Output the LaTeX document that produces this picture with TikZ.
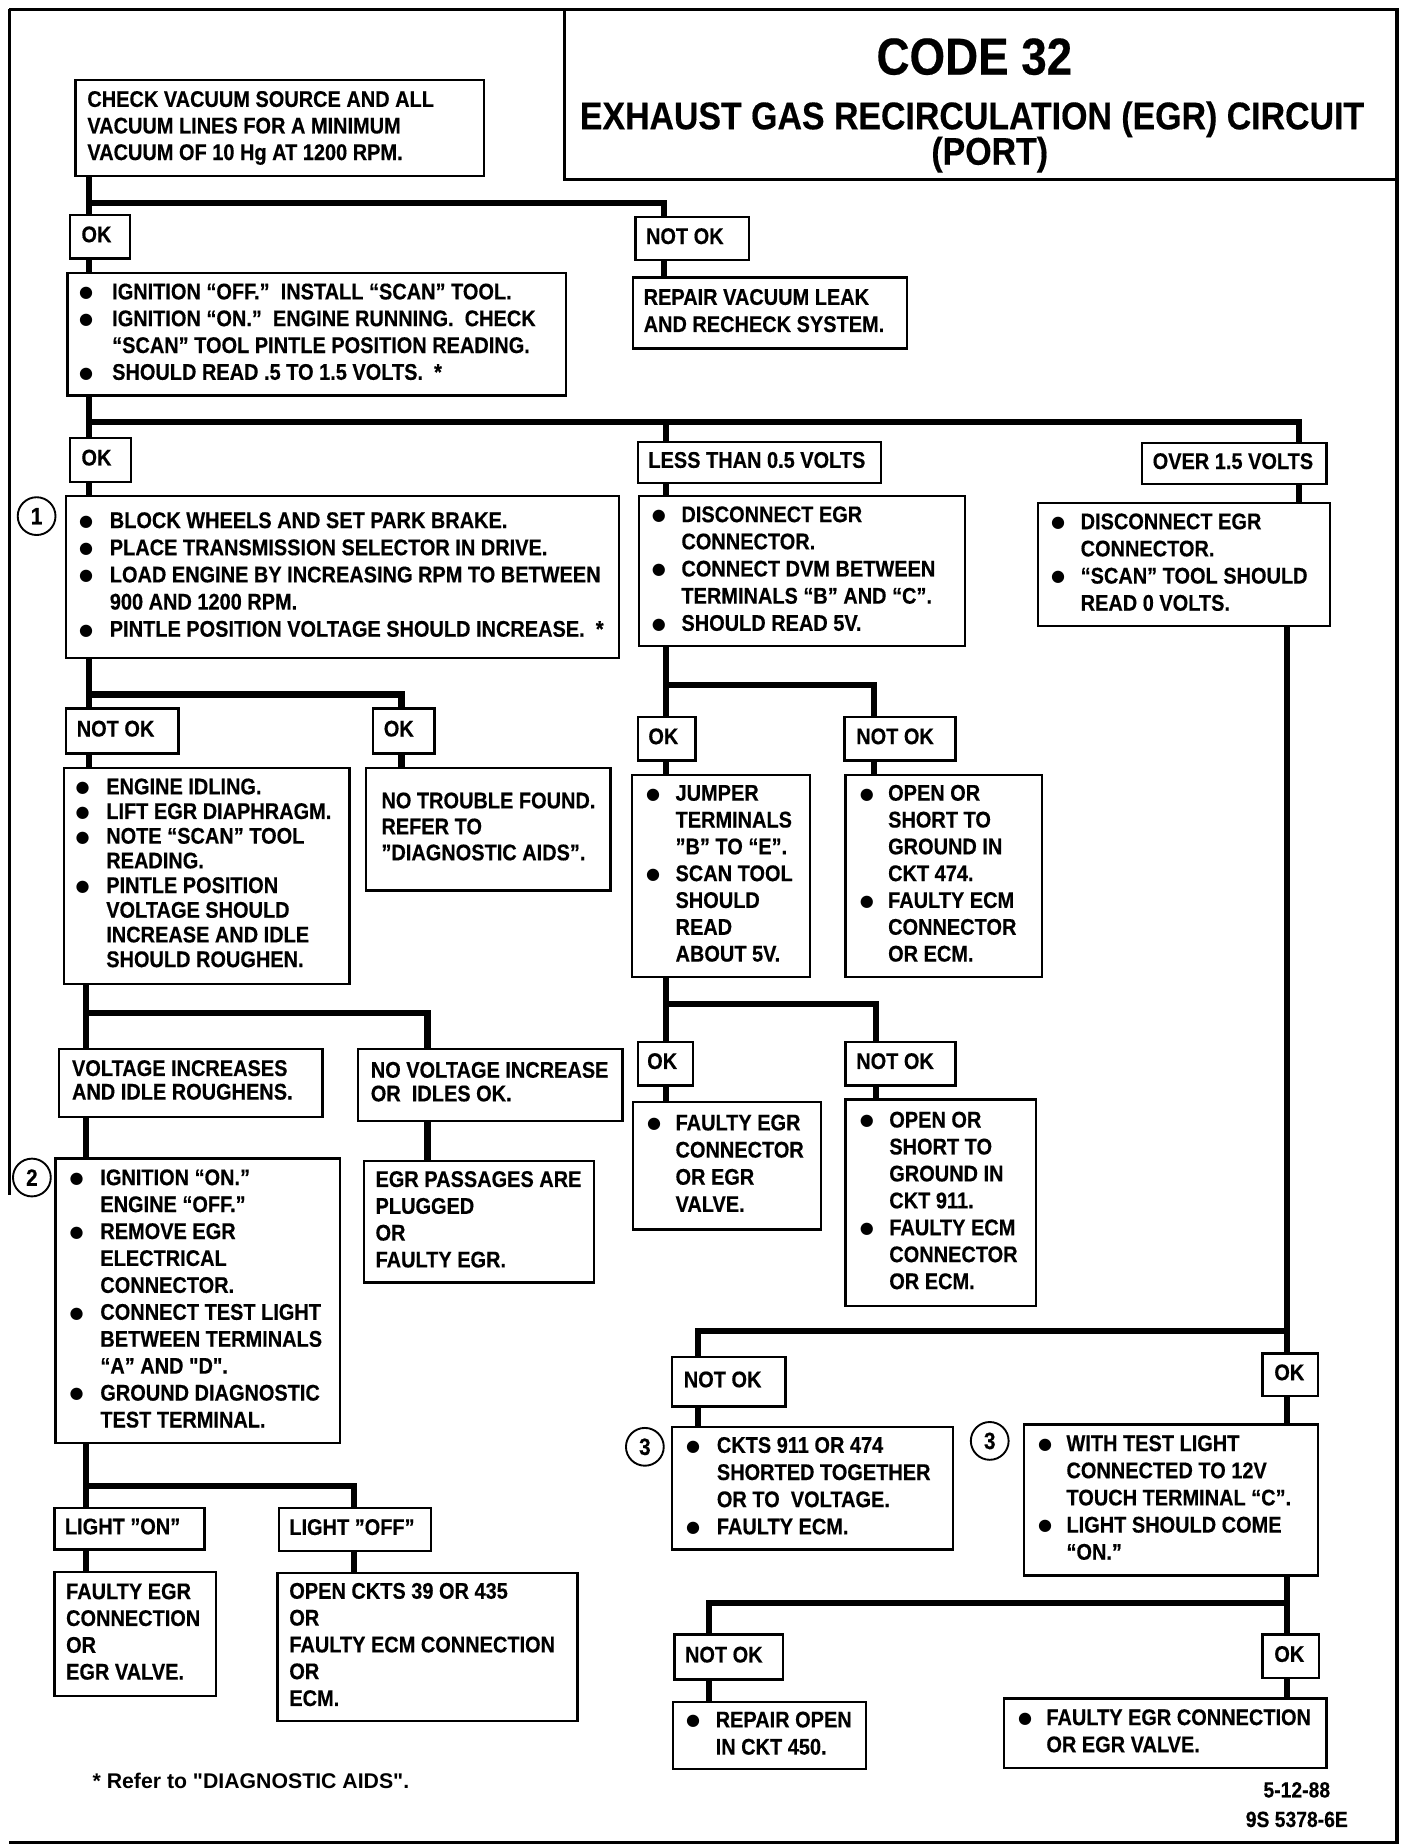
\documentclass[tikz,border=0pt]{standalone}
\usepackage{fontspec}
\newfontfamily\lab{Liberation Sans}[FakeStretch=0.88, BoldFeatures={FakeBold=0.4}]
\newfontfamily\plainf{Liberation Sans}
\newfontfamily\dejavu{DejaVu Sans}
\newcommand\mybul{\raisebox{0.7pt}{\dejavu\fontsize{6.8pt}{7pt}\selectfont ●}}
\newcommand\mybt[2]{\begin{tabular}{@{}p{#1}@{}l@{}}#2\end{tabular}}
\newcommand\mylt[1]{\begin{tabular}{@{}l@{}}#1\end{tabular}}
\newcommand\mybox[8]{%
  \pgfmathsetlengthmacro\bxw{(#4-2*#6)*0.5pt}%
  \pgfmathsetlengthmacro\bxp{#6*0.5pt}%
  \pgfmathsetlengthmacro\bxh{#5*0.5pt}%
  \pgfmathsetlengthmacro\bxs{#7*0.5pt}%
  \node[flbox, inner xsep=\bxp, minimum height=\bxh] (#1) at (#2,#3)
    {\makebox[\bxw][l]{\fontsize{9.6pt}{\bxs}\selectfont #8}};}
\tikzset{
  flbox/.style={draw, line width=1pt, anchor=north west, inner ysep=0pt,
    font=\lab\bfseries, fill=white},
  conn/.style={line width=2.6pt},
  frame/.style={line width=1.6pt},
  circ/.style={circle, draw, line width=0.8pt, minimum size=16pt, inner sep=0pt,
    font=\lab\bfseries\fontsize{10pt}{10pt}\selectfont},
}
\begin{document}
\begin{tikzpicture}[x=0.5pt,y=-0.5pt]
\useasboundingbox (0,0) rectangle (1192,1563);
% frame
\draw[frame] (8,8) -- (1183,8) -- (1183,1560) -- (8,1560);
\draw[line width=1pt] (8,8) -- (8,1012);
\draw[line width=0.9pt] (478,8) -- (478,152) -- (1183,152);
\node[font=\lab\bfseries\fontsize{22pt}{22pt}\selectfont] (t1) at (825,48) {CODE 32};
\node[font=\lab\bfseries\fontsize{16.3pt}{16pt}\selectfont] (t2) at (823,101) {EXHAUST GAS RECIRCULATION (EGR) CIRCUIT};
\node[font=\lab\bfseries\fontsize{16.3pt}{16pt}\selectfont] (t3) at (838,131) {(PORT)};

% junction coordinates
\coordinate (j1) at (75,172);  \coordinate (j1r) at (562,172);
\coordinate (j2) at (75,357);  \coordinate (j2m) at (564,357); \coordinate (j2r) at (1100,357);
\coordinate (j3) at (75,588);  \coordinate (j3r) at (340,588);
\coordinate (j4) at (564,580); \coordinate (j4r) at (740,580);
\coordinate (j5) at (73,858);  \coordinate (j5r) at (362,858);
\coordinate (j6) at (73,1258); \coordinate (j6r) at (300,1258);
\coordinate (j7) at (564,850); \coordinate (j7r) at (742,850);
\coordinate (j9) at (1090,1127); \coordinate (j9l) at (591,1127);
\coordinate (j10) at (1090,1357); \coordinate (j10l) at (600,1357);

% boxes
\mybox{A}{63}{67}{346}{81}{10}{22.5}{\mylt{CHECK VACUUM SOURCE AND ALL\\VACUUM LINES FOR A MINIMUM\\VACUUM OF 10 Hg AT 1200 RPM.}}
\mybox{ok1}{58}{181}{51}{37}{10}{23}{\mylt{OK}}
\mybox{nok1}{537}{183}{96}{36}{9}{23}{\mylt{NOT OK}}
\mybox{rep}{535}{234}{232}{60}{9}{23}{\mylt{REPAIR VACUUM LEAK\\AND RECHECK SYSTEM.}}
\mybox{B}{56}{230}{422}{104}{10}{22.7}{\mybt{14pt}{\mybul & IGNITION “OFF.”\ \ INSTALL “SCAN” TOOL.\\ \mybul & IGNITION “ON.”\ \ ENGINE RUNNING.\ \ CHECK\\ & “SCAN” TOOL PINTLE POSITION READING.\\ \mybul & SHOULD READ .5 TO 1.5 VOLTS.\ \ *}}
\mybox{ok2}{58}{370}{52}{37}{10}{23}{\mylt{OK}}
\mybox{less}{539}{373}{206}{35}{9}{23}{\mylt{LESS THAN 0.5 VOLTS}}
\mybox{over}{966}{374}{156}{35}{9}{23}{\mylt{OVER 1.5 VOLTS}}
\mybox{C}{55}{419}{468}{137}{11}{23}{\mybt{13pt}{\mybul & BLOCK WHEELS AND SET PARK BRAKE.\\ \mybul & PLACE TRANSMISSION SELECTOR IN DRIVE.\\ \mybul & LOAD ENGINE BY INCREASING RPM TO BETWEEN\\ & 900 AND 1200 RPM.\\ \mybul & PINTLE POSITION VOLTAGE SHOULD INCREASE.\ \ *}}
\mybox{D}{540}{419}{276}{127}{11}{23}{\mybt{12.5pt}{\mybul & DISCONNECT EGR\\ & CONNECTOR.\\ \mybul & CONNECT DVM BETWEEN\\ & TERMINALS “B” AND “C”.\\ \mybul & SHOULD READ 5V.}}
\mybox{E}{878}{425}{247}{104}{11}{23}{\mybt{12.5pt}{\mybul & DISCONNECT EGR\\ & CONNECTOR.\\ \mybul & “SCAN” TOOL SHOULD\\ & READ 0 VOLTS.}}
\mybox{nok2}{55}{599}{95}{38}{9}{23}{\mylt{NOT OK}}
\mybox{ok3}{315}{599}{52}{38}{9}{23}{\mylt{OK}}
\mybox{F}{53}{649}{242}{183}{10}{20.9}{\mybt{13pt}{\mybul & ENGINE IDLING.\\ \mybul & LIFT EGR DIAPHRAGM.\\ \mybul & NOTE “SCAN” TOOL\\ & READING.\\ \mybul & PINTLE POSITION\\ & VOLTAGE SHOULD\\ & INCREASE AND IDLE\\ & SHOULD ROUGHEN.}}
\mybox{G}{309}{649}{207}{104}{13}{22}{\mylt{NO TROUBLE FOUND.\\REFER TO\\”DIAGNOSTIC AIDS”.}}
\mybox{ok4}{539}{606}{49}{37}{9}{23}{\mylt{OK}}
\mybox{nok3}{714}{606}{94}{37}{10}{23}{\mylt{NOT OK}}
\mybox{H}{534}{655}{151}{171}{12}{22.7}{\mybt{12.5pt}{\mybul & JUMPER\\ & TERMINALS\\ & ”B” TO “E”.\\ \mybul & SCAN TOOL\\ & SHOULD\\ & READ\\ & ABOUT 5V.}}
\mybox{I}{715}{655}{166}{171}{12}{22.7}{\mybt{12pt}{\mybul & OPEN OR\\ & SHORT TO\\ & GROUND IN\\ & CKT 474.\\ \mybul & FAULTY ECM\\ & CONNECTOR\\ & OR ECM.}}
\mybox{ok5}{539}{881}{47}{37}{8}{23}{\mylt{OK}}
\mybox{nok4}{715}{881}{93}{37}{9}{23}{\mylt{NOT OK}}
\mybox{J}{535}{932}{159}{108}{12}{23}{\mybt{12pt}{\mybul & FAULTY EGR\\ & CONNECTOR\\ & OR EGR\\ & VALVE.}}
\mybox{K}{715}{930}{161}{175}{12}{22.8}{\mybt{12.5pt}{\mybul & OPEN OR\\ & SHORT TO\\ & GROUND IN\\ & CKT 911.\\ \mybul & FAULTY ECM\\ & CONNECTOR\\ & OR ECM.}}
\mybox{L}{49}{887}{223}{58}{11}{20}{\mylt{VOLTAGE INCREASES\\AND IDLE ROUGHENS.}}
\mybox{M}{302}{887}{224}{61}{11}{20}{\mylt{NO VOLTAGE INCREASE\\OR\ \ IDLES OK.}}
\mybox{N}{46}{980}{241}{241}{12}{22.8}{\mybt{13pt}{\mybul & IGNITION “ON.”\\ & ENGINE “OFF.”\\ \mybul & REMOVE EGR\\ & ELECTRICAL\\ & CONNECTOR.\\ \mybul & CONNECT TEST LIGHT\\ & BETWEEN TERMINALS\\ & “A” AND "D".\\ \mybul & GROUND DIAGNOSTIC\\ & TEST TERMINAL.}}
\mybox{O}{307}{982}{195}{103}{10}{22.7}{\mylt{EGR PASSAGES ARE\\PLUGGED\\OR\\FAULTY EGR.}}
\mybox{lon}{45}{1276}{127}{35}{9}{23}{\mylt{LIGHT ”ON”}}
\mybox{loff}{235}{1276}{129}{36}{9}{23}{\mylt{LIGHT ”OFF”}}
\mybox{P}{45}{1330}{137}{105}{10}{22.7}{\mylt{FAULTY EGR\\CONNECTION\\OR\\EGR VALVE.}}
\mybox{Q}{234}{1331}{254}{125}{10}{22.7}{\mylt{OPEN CKTS 39 OR 435\\OR\\FAULTY ECM CONNECTION\\OR\\ECM.}}
\mybox{nok5}{568}{1148}{96}{42}{10}{23}{\mylt{NOT OK}}
\mybox{R}{568}{1207}{238}{104}{12}{23}{\mybt{13pt}{\mybul & CKTS 911 OR 474\\ & SHORTED TOGETHER\\ & OR TO\ \ VOLTAGE.\\ \mybul & FAULTY ECM.}}
\mybox{ok6}{1068}{1145}{47}{36}{10}{23}{\mylt{OK}}
\mybox{S}{866}{1205}{249}{128}{12}{23}{\mybt{12pt}{\mybul & WITH TEST LIGHT\\ & CONNECTED TO 12V\\ & TOUCH TERMINAL “C”.\\ \mybul & LIGHT SHOULD COME\\ & “ON.”}}
\mybox{nok6}{570}{1383}{92}{38}{9}{23}{\mylt{NOT OK}}
\mybox{ok7}{1068}{1383}{48}{37}{10}{23}{\mylt{OK}}
\mybox{T}{569}{1440}{163}{57}{11}{23}{\mybt{12.5pt}{\mybul & REPAIR OPEN\\ & IN CKT 450.}}
\mybox{U}{849}{1437}{273}{59}{12}{23}{\mybt{12pt}{\mybul & FAULTY EGR CONNECTION\\ & OR EGR VALVE.}}

% circled numbers
\node[circ] (c1) at (31,437) {1};
\node[circ] (c2) at (27,997) {2};
\node[circ] (c3a) at (546,1225) {3};
\node[circ] (c3b) at (838,1220) {3};

% connectors
\draw[conn] (A.south -| j1) -- (ok1.north -| j1);
\draw[conn] (j1) -- (j1r) -- (nok1.north -| j1r);
\draw[conn] (ok1.south -| j1) -- (B.north -| j1);
\draw[conn] (nok1.south -| j1r) -- (rep.north -| j1r);

\draw[conn] (B.south -| j2) -- (ok2.north -| j2);
\draw[conn] (j2) -- (j2r) -- (over.north -| j2r);
\draw[conn] (j2m) -- (less.north -| j2m);
\draw[conn] (ok2.south -| j2) -- (C.north -| j2);
\draw[conn] (less.south -| j2m) -- (D.north -| j2m);
\draw[conn] (over.south -| j2r) -- (E.north -| j2r);

\draw[conn] (C.south -| j3) -- (nok2.north -| j3);
\draw[conn] (j3) -- (j3r) -- (ok3.north -| j3r);
\draw[conn] (nok2.south -| j3) -- (F.north -| j3);
\draw[conn] (ok3.south -| j3r) -- (G.north -| j3r);

\draw[conn] (D.south -| j4) -- (ok4.north -| j4);
\draw[conn] (j4) -- (j4r) -- (nok3.north -| j4r);
\draw[conn] (ok4.south -| j4) -- (H.north -| j4);
\draw[conn] (nok3.south -| j4r) -- (I.north -| j4r);

\draw[conn] (H.south -| j7) -- (ok5.north -| j7);
\draw[conn] (j7) -- (j7r) -- (nok4.north -| j7r);
\draw[conn] (ok5.south -| j7) -- (J.north -| j7);
\draw[conn] (nok4.south -| j7r) -- (K.north -| j7r);

\draw[conn] (F.south -| j5) -- (L.north -| j5);
\draw[conn] (j5) -- (j5r) -- (M.north -| j5r);
\draw[conn] (L.south -| j5) -- (N.north -| j5);
\draw[conn] (M.south -| j5r) -- (O.north -| j5r);

\draw[conn] (N.south -| j6) -- (lon.north -| j6);
\draw[conn] (j6) -- (j6r) -- (loff.north -| j6r);
\draw[conn] (lon.south -| j6) -- (P.north -| j6);
\draw[conn] (loff.south -| j6r) -- (Q.north -| j6r);

\draw[conn] (E.south -| j9) -- (ok6.north -| j9);
\draw[conn] (j9) -- (j9l) -- (nok5.north -| j9l);
\draw[conn] (nok5.south -| j9l) -- (R.north -| j9l);
\draw[conn] (ok6.south -| j9) -- (S.north -| j9);

\draw[conn] (S.south -| j10) -- (ok7.north -| j10);
\draw[conn] (j10) -- (j10l) -- (nok6.north -| j10l);
\draw[conn] (nok6.south -| j10l) -- (T.north -| j10l);
\draw[conn] (ok7.south -| j10) -- (U.north -| j10);

% footnotes
\node[anchor=west, inner sep=0pt, font=\plainf\bfseries\fontsize{9pt}{11pt}\selectfont] (fn) at (78,1508) {* Refer to "DIAGNOSTIC AIDS".};
\node[align=center, inner sep=0pt, font=\lab\bfseries\fontsize{9.3pt}{12.5pt}\selectfont] (dt) at (1098,1528) {5-12-88\\9S 5378-6E};
\end{tikzpicture}
\end{document}
